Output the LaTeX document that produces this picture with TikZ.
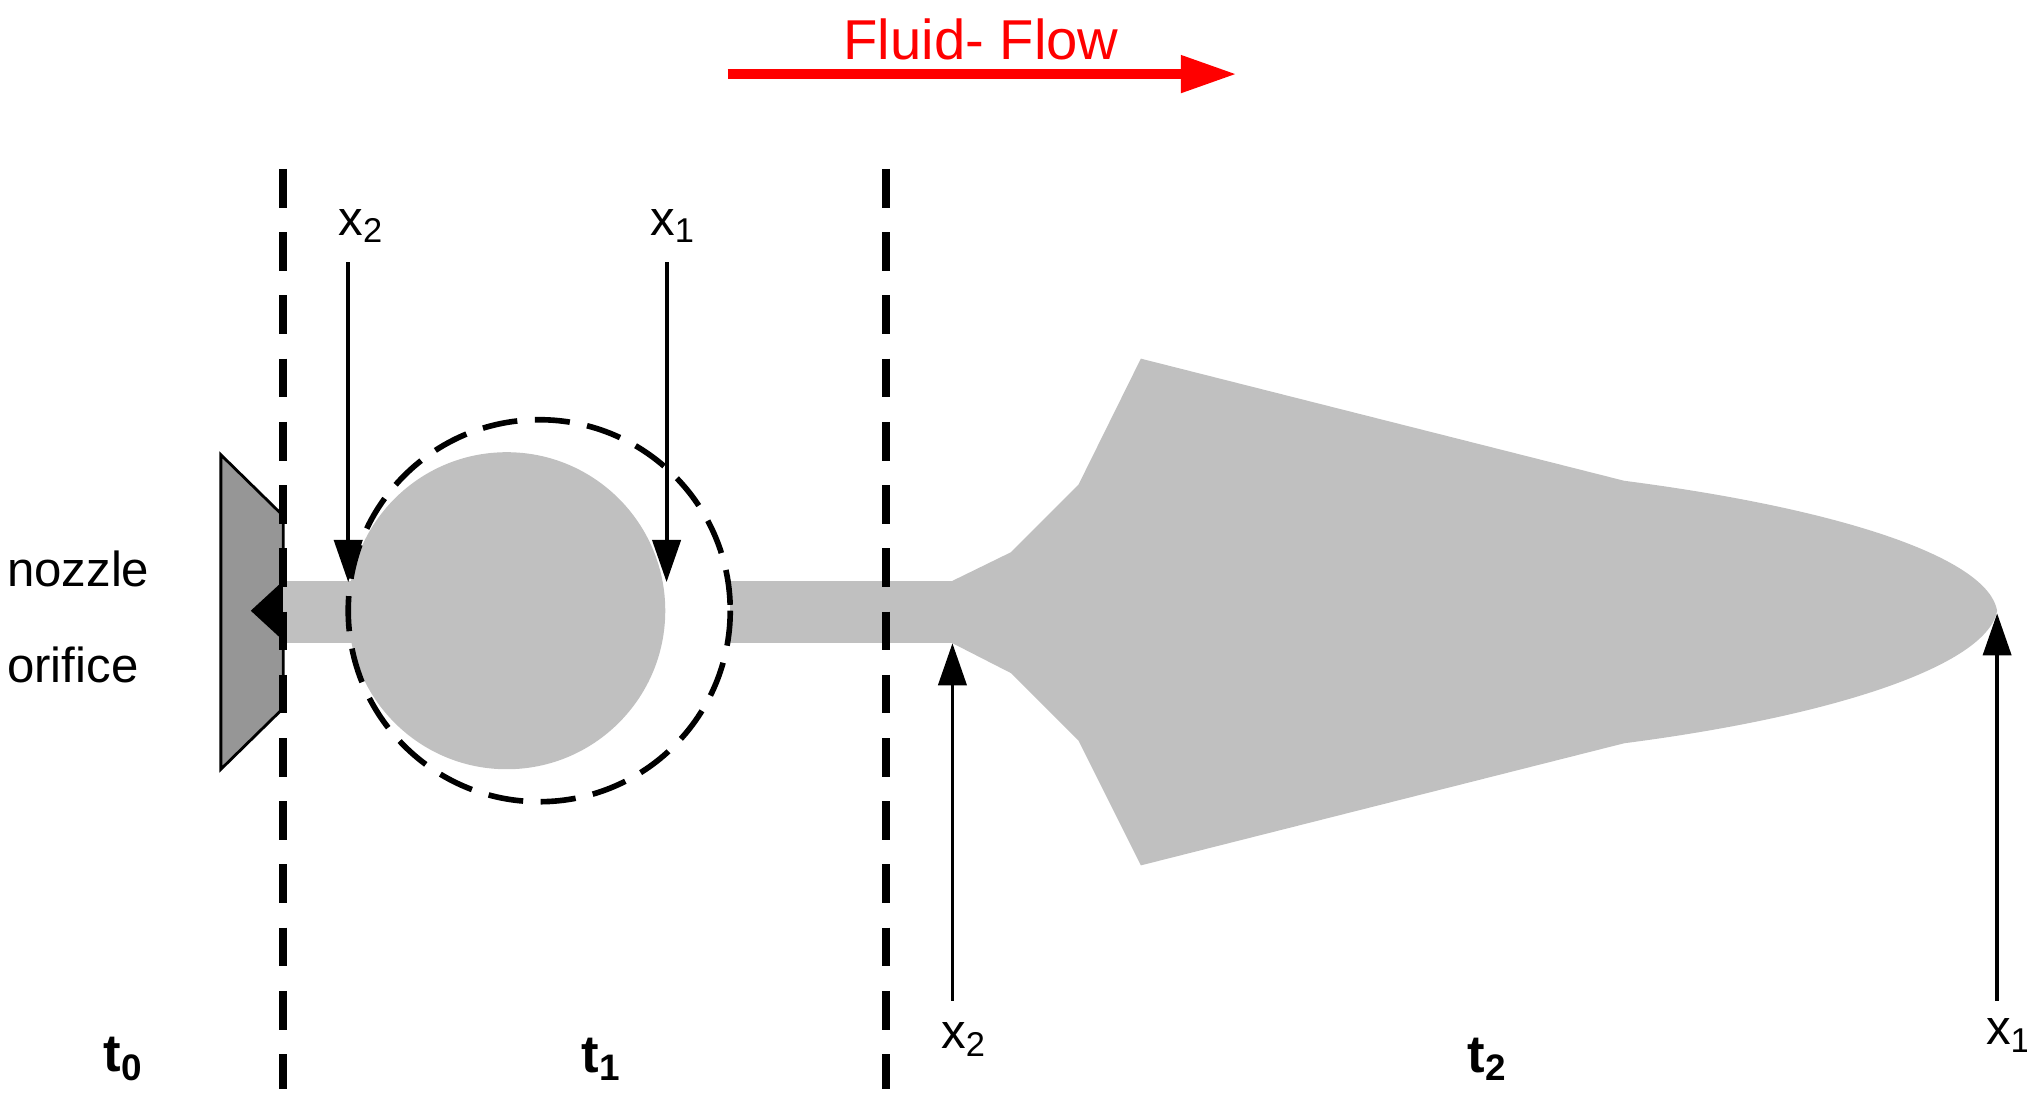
\documentclass[tikz,border=0pt]{standalone}
\usepackage{fontspec}
\setmainfont{Liberation Sans}
\usetikzlibrary{arrows.meta}
\begin{document}
\begin{tikzpicture}[x=0.013cm,y=-0.013cm,
  fillg/.style={fill={rgb,255:red,192;green,192;blue,192},draw=none},
  vdash/.style={line width=2.4pt,dash pattern=on 11pt off 7pt},
  marr/.style={line width=1.1pt,-{Triangle[length=12pt,width=8pt]}},
  lbl/.style={font=\fontsize{14}{16}\selectfont,inner sep=0},
  tl/.style={font=\bfseries\fontsize{15}{17}\selectfont,inner sep=0}]
\useasboundingbox (0,0) rectangle (1560,846);
% red flow arrow
\coordinate (fa) at (560,57); \coordinate (fb) at (952,57);
\draw[red,line width=3pt,-{Triangle[length=16pt,width=10pt]}] (fa) -- (fb);
\node[red,lbl,font=\fontsize{16}{18}\selectfont] (flow) at (755,30) {Fluid- Flow};
% nozzle
\filldraw[fill={rgb,255:red,150;green,150;blue,150},draw=black,line width=0.8pt] (170,350) -- (218,397) -- (218,545) -- (170,592) -- cycle;
\fill[black] (193,470) -- (218,447) -- (218,493) -- cycle;
% streams and shapes
\fill[fillg] (218,447) rectangle (272,495);
\fill[fillg] (390,470) circle (122);
\fill[fillg] (562,447) rectangle (735,495);
\fill[fillg] (733,447) -- (778,425) -- (830,373) -- (878,276) -- (1250,370)
  .. controls (1420,392) and (1530,430) .. (1537,470)
  .. controls (1530,510) and (1420,550) .. (1250,572)
  -- (878,666) -- (830,570) -- (778,518) -- (733,495) -- cycle;
\draw[line width=1.6pt,dash pattern=on 10pt off 5pt] (415,470) circle (147);
% dashed lines
\coordinate (d1a) at (218,130); \coordinate (d1b) at (218,838);
\coordinate (d2a) at (682,130); \coordinate (d2b) at (682,838);
\draw[vdash] (d1a) -- (d1b);
\draw[vdash] (d2a) -- (d2b);
% markers
\node[lbl] (a1) at (278,174) {x\textsubscript{2}};
\node[lbl] (a2) at (518,174) {x\textsubscript{1}};
\node[lbl] (a3) at (742,800) {x\textsubscript{2}};
\node[lbl] (a4) at (1546,797) {x\textsubscript{1}};
\coordinate (p1) at (268,448); \coordinate (p2) at (513,448);
\coordinate (p3) at (733,495); \coordinate (p4) at (1537,472);
\coordinate (q1) at (268,202); \coordinate (q2) at (513,202);
\coordinate (q3) at (733,770); \coordinate (q4) at (1537,770);
\draw[marr] (q1) -- (p1);
\draw[marr] (q2) -- (p2);
\draw[marr] (q3) -- (p3);
\draw[marr] (q4) -- (p4);
% texts
\node[lbl,anchor=west] (nz) at (5,438) {nozzle};
\node[lbl,anchor=west] (or) at (5,512) {orifice};
\node[tl] (t0) at (95,815) {t\textsubscript{0}};
\node[tl] (t1) at (463,815) {t\textsubscript{1}};
\node[tl] (t2) at (1145,815) {t\textsubscript{2}};
\end{tikzpicture}
\end{document}
